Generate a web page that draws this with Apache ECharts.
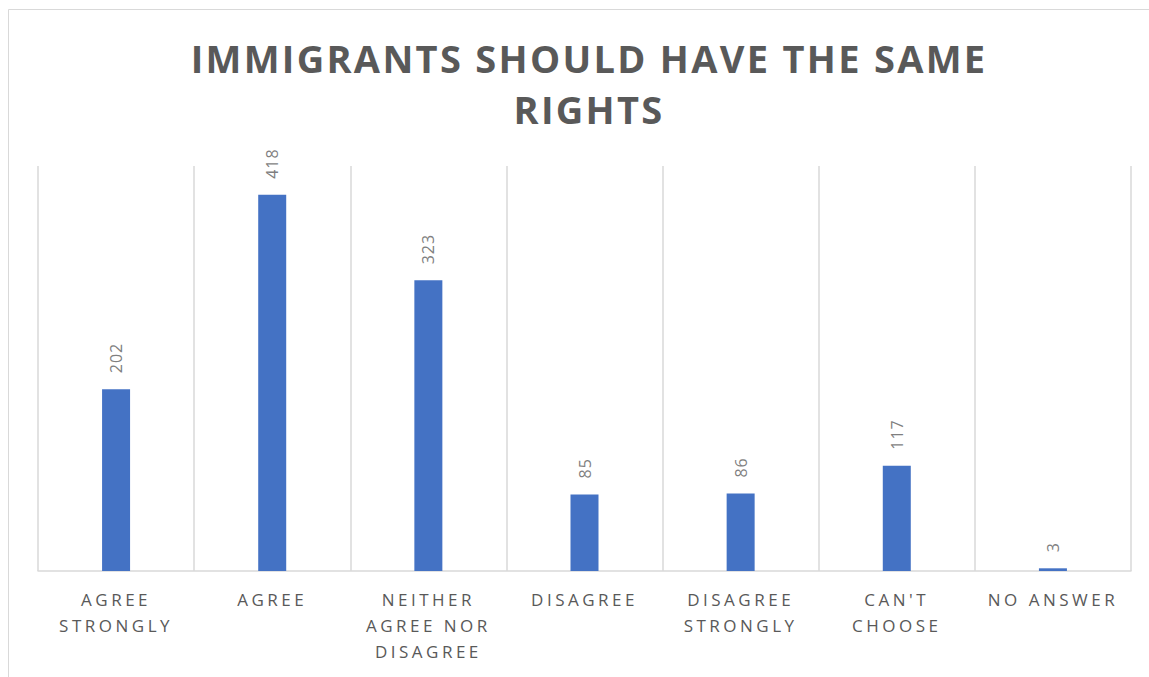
<!DOCTYPE html>
<html>
<head>
<meta charset="utf-8">
<script src="https://cdn.jsdelivr.net/npm/echarts@6/dist/echarts.min.js"></script>
<style>
  html, body { margin: 0; padding: 0; background: #fff; }
  #chart { width: 1149px; height: 677px; }
  /* letter spacing like the original office chart */
  #chart text[style*="17px"] { letter-spacing: 3.5px; }
  #chart text[style*="38px"] { letter-spacing: 2.3px; }
  #chart text[style*="16px"] { letter-spacing: 1px; }
</style>
</head>
<body>
<div id="chart"></div>
<script>
// 数据
const categories = ['AGREE\nSTRONGLY', 'AGREE', 'NEITHER\nAGREE NOR\nDISAGREE', 'DISAGREE', 'DISAGREE\nSTRONGLY', "CAN'T\nCHOOSE", 'NO ANSWER'];
const counts = [202, 418, 323, 85, 86, 117, 3];
const titleText = 'IMMIGRANTS SHOULD HAVE THE SAME\nRIGHTS';

const chart = echarts.init(document.getElementById('chart'), null, { renderer: 'svg' });

const option = {
  animation: false,
  title: {
    text: titleText,
    left: 584,
    top: 27,
    textAlign: 'center',
    textStyle: {
      fontFamily: 'Open Sans',
      fontWeight: 'bold',
      fontSize: 38,
      lineHeight: 51,
      color: '#595959'
    }
  },
  graphic: [{
    type: 'rect',
    shape: { x: 8.5, y: 9.5, width: 1200, height: 700 },
    style: { fill: 'none', stroke: '#d9d9d9', lineWidth: 1 },
    silent: true
  }],
  grid: {
    left: 38,
    right: 18,
    top: 166,
    bottom: 106
  },
  xAxis: {
    type: 'category',
    data: categories,
    axisLine: { lineStyle: { color: '#d9d9d9', width: 1.5 } },
    axisTick: { show: false },
    splitLine: { show: true, lineStyle: { color: '#d9d9d9', width: 1.5 } },
    axisLabel: {
      interval: 0,
      margin: 15,
      fontFamily: 'Open Sans',
      fontSize: 17,
      lineHeight: 26,
      color: '#595959'
    }
  },
  yAxis: {
    type: 'value',
    min: 0,
    max: 450,
    show: false,
    splitLine: { show: false }
  },
  series: [{
    type: 'bar',
    data: counts,
    barWidth: 28,
    itemStyle: { color: '#4472c4' },
    label: {
      show: true,
      position: 'top',
      rotate: 90,
      align: 'left',
      verticalAlign: 'middle',
      distance: 16,
      fontFamily: 'Open Sans',
      fontSize: 16,
      color: '#7f7f7f'
    }
  }]
};

chart.setOption(option);
</script>
</body>
</html>
